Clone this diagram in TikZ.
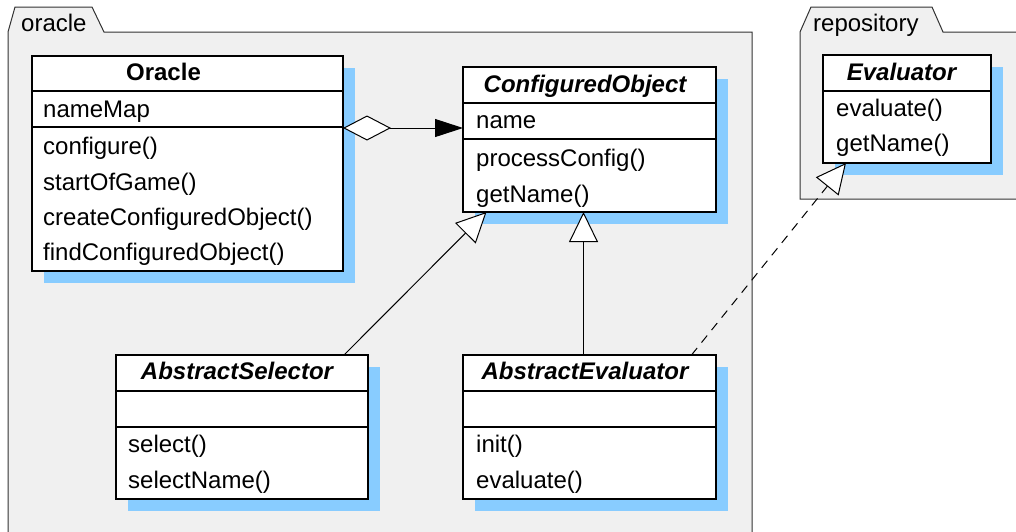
\documentclass[tikz,border=0pt]{standalone}
\usepackage{fontspec}
\setmainfont{Liberation Sans}
\usetikzlibrary{arrows.meta,shadows}
\definecolor{pkgfill}{RGB}{240,240,240}
\definecolor{shadowc}{RGB}{136,204,255}
\begin{document}
\begin{tikzpicture}[x=1pt,y=-1pt,
  font=\fontsize{24}{28}\selectfont,
  pkg/.style={draw=black!80,line width=1pt,fill=pkgfill},
  classbox/.style={draw=black,line width=1.2pt,fill=white,inner sep=0pt,outer sep=0pt,anchor=north west,
    drop shadow={shadow xshift=12pt,shadow yshift=-12pt,fill=shadowc,opacity=1}},
  sep/.style={draw=black,line width=1.2pt},
  member/.style={anchor=base west,inner sep=0pt},
  head/.style={anchor=base,inner sep=0pt,font=\fontsize{24}{28}\selectfont\bfseries\itshape},
  conn/.style={draw=black,line width=1pt},
  gen/.style={conn,-{Triangle[length=30pt,width=29pt,fill=white]}},
  real/.style={conn,dash pattern=on 9pt off 7pt,-{Triangle[length=30pt,width=29pt,fill=white]}},
  aggr/.style={conn,{Diamond[length=48pt,width=25pt,fill=white]}-{Triangle[length=28pt,width=18pt]}}
]
\useasboundingbox (0,0) rectangle (1016,531);
\clip (0,0) rectangle (1016,531);
% packages
\path[pkg] (8,540) -- (8,32) -- (15,7) -- (92,7) -- (104,32) -- (752,32) -- (752,540);
\node[member] (oraclelbl) at (21,31) {oracle};
\path[pkg] (1030,199) -- (800,199) -- (800,32) -- (811,7) -- (932,7) -- (943,32) -- (1030,32);
\node[member] (repolbl) at (813,31) {repository};

% Oracle
\node[classbox,minimum width=311pt,minimum height=215pt] (oracle) at (32,56) {};
\draw[sep] (32,91) -- (343,91);
\draw[sep] (32,127) -- (343,127);
\node[head,font=\fontsize{24}{28}\selectfont\bfseries] (oracleh) at (163.5,80) {Oracle};
\node[member] (o1) at (43,117) {nameMap};
\node[member] (o2) at (43,154) {configure()};
\node[member] (o3) at (43,190) {startOfGame()};
\node[member] (o4) at (43,225.5) {createConfiguredObject()};
\node[member] (o5) at (43,260.5) {findConfiguredObject()};

% ConfiguredObject
\node[classbox,minimum width=253pt,minimum height=145pt] (co) at (463,67) {};
\draw[sep] (463,103) -- (716,103);
\draw[sep] (463,139) -- (716,139);
\node[head] (coh) at (585,92) {ConfiguredObject};
\node[member] (c1) at (476,128) {name};
\node[member] (c2) at (476,166) {processConfig()};
\node[member] (c3) at (476,202) {getName()};

% AbstractSelector
\node[classbox,minimum width=252pt,minimum height=144pt] (as) at (116,355) {};
\draw[sep] (116,391) -- (368,391);
\draw[sep] (116,427) -- (368,427);
\node[head] (ash) at (237,379.5) {AbstractSelector};
\node[member] (s1) at (128,452.5) {select()};
\node[member] (s2) at (128,488) {selectName()};

% AbstractEvaluator
\node[classbox,minimum width=253pt,minimum height=144pt] (ae) at (463,355) {};
\draw[sep] (463,391) -- (716,391);
\draw[sep] (463,427) -- (716,427);
\node[head] (aeh) at (585,379.5) {AbstractEvaluator};
\node[member] (e1) at (476,452.5) {init()};
\node[member] (e2) at (476,488) {evaluate()};

% Evaluator
\node[classbox,minimum width=168pt,minimum height=108pt] (ev) at (823,55) {};
\draw[sep] (823,91) -- (991,91);
\node[head] (evh) at (901.5,80) {Evaluator};
\node[member] (v1) at (836,116) {evaluate()};
\node[member] (v2) at (836,151.5) {getName()};

% connectors
\draw[aggr] ([yshift=-72pt]oracle.north east) -- ([yshift=-61pt]co.north west);
\draw[gen] ([xshift=228pt]as.north west) -- ([xshift=23.5pt]co.south west);
\draw[gen] ([xshift=120.5pt]ae.north west) -- ([xshift=120.5pt]co.south west);
\draw[real] ([xshift=228.5pt]ae.north west) -- ([xshift=23pt]ev.south west);
\end{tikzpicture}
\end{document}
